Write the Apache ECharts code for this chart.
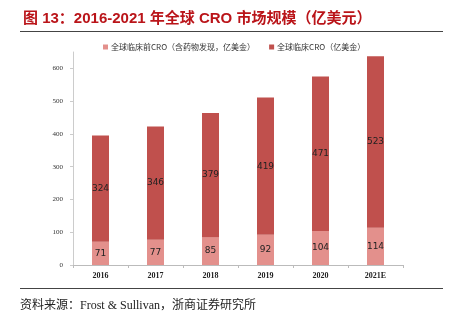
<!DOCTYPE html>
<html>
<head>
<meta charset="utf-8">
<script src="https://cdn.jsdelivr.net/npm/echarts@6/dist/echarts.min.js"></script>
<style>
  html, body { margin: 0; padding: 0; background: #fff; }
  #chart { width: 454px; height: 325px; }
</style>
</head>
<body>
<div id="chart"></div>
<script>
// Global CRO market size, 2016-2021E (100 million USD)
const years = ['2016', '2017', '2018', '2019', '2020', '2021E'];
const preclinical = [71, 77, 85, 92, 104, 114];
const clinical = [324, 346, 379, 419, 471, 523];
const seriesNames = ['全球临床前CRO（含药物发现，亿美金）', '全球临床CRO（亿美金）'];
const titleText = '图 13：2016-2021 年全球 CRO 市场规模（亿美元）';
const sourceText = '资料来源：Frost & Sullivan，浙商证券研究所';

const serif = '"Liberation Serif", "Noto Sans CJK SC", serif';
const cjk = '"Noto Sans CJK SC", sans-serif';

const chart = echarts.init(document.getElementById('chart'), null, { renderer: 'canvas' });

const labelStyle = {
  show: true,
  position: 'inside',
  color: '#222',
  fontSize: 9,
  fontFamily: '"DejaVu Sans", sans-serif'
};

chart.setOption({
  animation: false,
  backgroundColor: '#fff',
  title: {
    text: titleText,
    left: 18,
    top: 6,
    textStyle: { color: '#BA1419', fontSize: 15, fontWeight: 'bold', fontFamily: '"Liberation Sans", "Noto Sans CJK SC", sans-serif' }
  },
  graphic: [
    { type: 'line', shape: { x1: 20, y1: 31.5, x2: 443, y2: 31.5 }, style: { stroke: '#444', lineWidth: 1 } },
    { type: 'line', shape: { x1: 20, y1: 288.5, x2: 443, y2: 288.5 }, style: { stroke: '#444', lineWidth: 1 } },
    { type: 'text', left: 20, top: 300, style: { text: sourceText, fill: '#222', fontSize: 12, fontFamily: serif } }
  ],
  legend: {
    top: 38,
    left: 98,
    itemWidth: 5,
    itemHeight: 5,
    itemGap: 14,
    icon: 'rect',
    textStyle: { fontSize: 8, color: '#333', fontFamily: cjk, padding: [0, 0, 0, -2] },
    data: seriesNames
  },
  grid: { left: 73, right: 51, top: 52, bottom: 60 },
  xAxis: {
    type: 'category',
    data: years,
    axisLine: { lineStyle: { color: '#bbb' } },
    axisTick: { show: true, length: 3, lineStyle: { color: '#bbb' } },
    axisLabel: { color: '#222', fontSize: 8, fontWeight: 'bold', fontFamily: serif, margin: 7 }
  },
  yAxis: {
    type: 'value',
    min: 0,
    max: 650,
    interval: 100,
    axisLine: { show: true, lineStyle: { color: '#ccc' } },
    axisTick: { show: true, length: 3, lineStyle: { color: '#ccc' } },
    splitLine: { show: false },
    axisLabel: { color: '#333', fontSize: 7, fontFamily: serif, margin: 10, showMaxLabel: false }
  },
  series: [
    {
      name: seriesNames[0],
      type: 'bar',
      stack: 'total',
      data: preclinical,
      barWidth: 17,
      itemStyle: { color: '#E3908C' },
      label: labelStyle
    },
    {
      name: seriesNames[1],
      type: 'bar',
      stack: 'total',
      data: clinical,
      barWidth: 17,
      itemStyle: { color: '#C0504D' },
      label: labelStyle
    }
  ]
});
</script>
</body>
</html>
